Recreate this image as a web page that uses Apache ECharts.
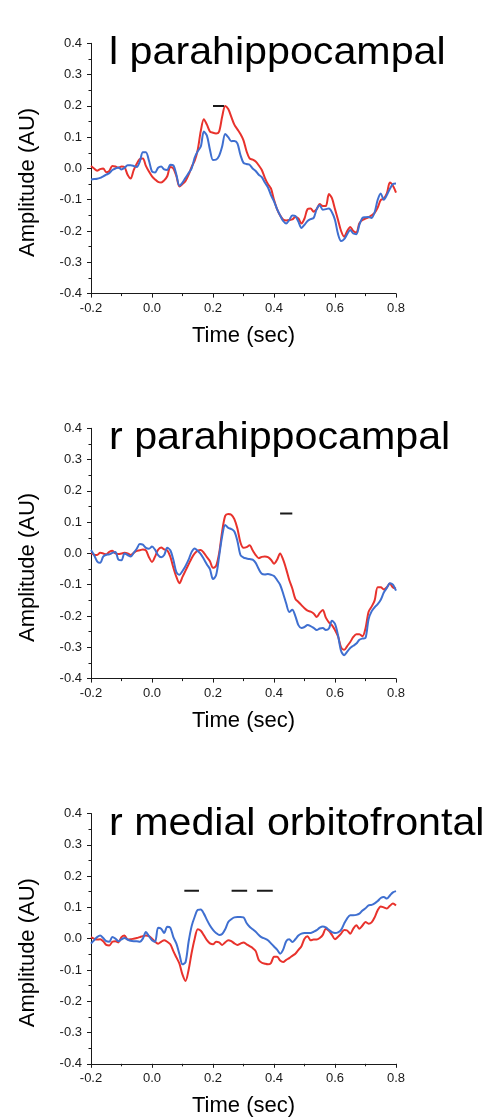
<!DOCTYPE html>
<html><head><meta charset="utf-8">
<script src="https://cdn.jsdelivr.net/npm/echarts@6/dist/echarts.min.js"></script>
<style>html,body{margin:0;padding:0;background:#fff}#c{width:486px;height:1118px}</style>
</head><body><div id="c"></div>
<script>
// Time samples (sec)
const TIME = [-0.20,-0.19,-0.18,-0.17,-0.16,-0.15,-0.14,-0.13,-0.12,-0.11,
-0.10,-0.09,-0.08,-0.07,-0.06,-0.05,-0.04,-0.03,-0.02,-0.01,
0.00,0.01,0.02,0.03,0.04,0.05,0.06,0.07,0.08,0.09,
0.10,0.11,0.12,0.13,0.14,0.15,0.16,0.17,0.18,0.19,
0.20,0.21,0.22,0.23,0.24,0.25,0.26,0.27,0.28,0.29,
0.30,0.31,0.32,0.33,0.34,0.35,0.36,0.37,0.38,0.39,
0.40,0.41,0.42,0.43,0.44,0.45,0.46,0.47,0.48,0.49,
0.50,0.51,0.52,0.53,0.54,0.55,0.56,0.57,0.58,0.59,
0.60,0.61,0.62,0.63,0.64,0.65,0.66,0.67,0.68,0.69,
0.70,0.71,0.72,0.73,0.74,0.75,0.76,0.77,0.78,0.79,0.80];

const PANEL_TITLES = ['l parahippocampal', 'r parahippocampal', 'r medial orbitofrontal'];
const Y_NAME = 'Amplitude (AU)';
const X_NAME = 'Time (sec)';

// l parahippocampal
const lphRed = [0.008,0.000,-0.007,-0.002,0.000,-0.012,-0.008,0.008,0.006,0.002,
0.006,0.004,-0.020,-0.032,-0.005,0.015,0.030,0.032,0.008,-0.010,
-0.025,-0.035,-0.043,-0.045,-0.038,-0.025,0.005,0.000,-0.025,-0.058,
-0.050,-0.040,-0.020,0.005,0.025,0.060,0.120,0.157,0.140,0.118,
0.114,0.112,0.118,0.165,0.200,0.190,0.165,0.140,0.125,0.110,
0.090,0.055,0.032,0.028,0.022,0.010,-0.005,-0.030,-0.050,-0.064,
-0.100,-0.130,-0.150,-0.163,-0.166,-0.165,-0.163,-0.155,-0.160,-0.176,
-0.160,-0.130,-0.128,-0.138,-0.130,-0.114,-0.120,-0.120,-0.082,-0.095,
-0.130,-0.165,-0.200,-0.218,-0.200,-0.187,-0.200,-0.205,-0.175,-0.165,
-0.160,-0.156,-0.150,-0.142,-0.125,-0.101,-0.096,-0.080,-0.045,-0.055,-0.077];
const lphBlue = [-0.035,-0.034,-0.033,-0.030,-0.025,-0.020,-0.015,-0.005,0.000,0.003,
-0.003,0.002,0.010,0.010,0.008,0.005,0.022,0.052,0.052,0.025,
-0.010,-0.013,0.002,0.006,-0.003,-0.005,0.012,0.010,-0.020,-0.055,
-0.045,-0.030,-0.015,0.000,0.035,0.055,0.070,0.118,0.105,0.060,
0.027,0.028,0.040,0.070,0.110,0.100,0.087,0.088,0.080,0.043,
0.018,0.014,0.012,0.000,-0.008,-0.020,-0.028,-0.045,-0.060,-0.085,
-0.105,-0.130,-0.150,-0.168,-0.176,-0.165,-0.150,-0.152,-0.170,-0.190,
-0.180,-0.168,-0.162,-0.158,-0.130,-0.118,-0.132,-0.130,-0.128,-0.140,
-0.165,-0.210,-0.232,-0.226,-0.210,-0.197,-0.208,-0.210,-0.180,-0.158,
-0.156,-0.155,-0.158,-0.140,-0.100,-0.080,-0.100,-0.085,-0.065,-0.050,-0.048];
const lphSig = [[0.200, 0.236, 0.200]];

// r parahippocampal
const rphRed = [0.000,-0.004,-0.005,0.002,0.000,-0.003,0.005,0.009,0.000,-0.002,
0.000,0.002,0.000,-0.005,0.002,0.008,0.010,0.013,0.010,-0.012,
-0.027,-0.010,0.012,0.019,0.013,0.010,-0.010,-0.045,-0.075,-0.095,
-0.075,-0.055,-0.035,-0.015,0.000,0.009,0.011,0.002,-0.012,-0.025,
-0.046,-0.040,0.000,0.070,0.120,0.126,0.124,0.110,0.080,0.035,
0.018,0.020,0.026,0.010,-0.005,-0.015,-0.011,-0.010,-0.012,-0.020,
-0.033,-0.020,0.000,-0.020,-0.050,-0.085,-0.112,-0.145,-0.155,-0.165,
-0.175,-0.183,-0.186,-0.192,-0.203,-0.190,-0.181,-0.205,-0.220,-0.229,
-0.245,-0.265,-0.300,-0.308,-0.296,-0.283,-0.267,-0.258,-0.258,-0.265,
-0.240,-0.187,-0.170,-0.150,-0.108,-0.108,-0.115,-0.108,-0.096,-0.109,-0.112];
const rphBlue = [0.011,-0.005,-0.025,-0.030,-0.010,-0.004,-0.003,0.002,0.005,-0.020,
-0.022,0.000,-0.005,-0.010,0.002,0.015,0.030,0.028,0.018,0.015,
0.022,0.012,-0.005,-0.012,-0.005,0.018,0.010,-0.020,-0.060,-0.068,
-0.056,-0.040,-0.020,0.005,0.016,0.008,-0.002,-0.018,-0.035,-0.050,
-0.082,-0.070,-0.010,0.055,0.091,0.082,0.078,0.070,0.040,-0.005,
-0.013,-0.016,-0.018,-0.020,-0.030,-0.050,-0.065,-0.067,-0.066,-0.068,
-0.072,-0.085,-0.100,-0.128,-0.160,-0.187,-0.180,-0.200,-0.229,-0.238,
-0.235,-0.229,-0.232,-0.238,-0.245,-0.240,-0.238,-0.245,-0.240,-0.215,
-0.225,-0.262,-0.312,-0.325,-0.314,-0.302,-0.295,-0.288,-0.276,-0.272,
-0.270,-0.210,-0.185,-0.172,-0.162,-0.148,-0.125,-0.110,-0.095,-0.100,-0.119];
const rphSig = [[0.420, 0.460, 0.128]];

// r medial orbitofrontal
const rmoRed = [0.005,0.000,-0.003,-0.002,-0.008,-0.020,-0.022,-0.010,-0.008,-0.012,
0.005,0.010,-0.003,-0.002,0.000,0.002,0.005,0.008,0.010,0.008,
0.000,-0.010,-0.016,-0.010,-0.005,-0.010,-0.018,-0.040,-0.060,-0.080,
-0.115,-0.135,-0.100,-0.045,0.000,0.030,0.025,0.011,-0.005,-0.015,
-0.018,-0.010,-0.012,-0.020,-0.012,-0.005,-0.008,-0.015,-0.020,-0.016,
-0.012,-0.018,-0.024,-0.030,-0.040,-0.068,-0.077,-0.080,-0.082,-0.078,
-0.058,-0.058,-0.070,-0.075,-0.068,-0.062,-0.055,-0.048,-0.036,-0.024,
0.000,0.008,-0.005,-0.003,-0.003,0.002,0.012,0.032,0.025,0.012,
-0.002,0.006,0.016,0.028,0.026,0.016,0.032,0.043,0.032,0.042,
0.053,0.048,0.052,0.068,0.091,0.103,0.100,0.096,0.105,0.112,0.106];
const rmoBlue = [-0.016,-0.005,0.005,0.010,0.002,-0.008,-0.010,0.005,0.000,-0.008,
-0.002,0.002,-0.003,-0.007,-0.008,-0.008,-0.010,0.000,0.021,0.008,
-0.005,-0.010,0.035,0.032,0.018,0.038,0.035,0.005,-0.016,-0.050,
-0.082,-0.075,-0.010,0.040,0.070,0.092,0.093,0.080,0.060,0.042,
0.028,0.018,0.012,0.015,0.030,0.053,0.062,0.068,0.069,0.069,
0.068,0.050,0.038,0.030,0.022,0.012,0.004,0.000,-0.005,-0.015,
-0.025,-0.035,-0.048,-0.035,-0.008,-0.002,-0.011,-0.002,0.010,0.016,
0.018,0.018,0.018,0.022,0.027,0.035,0.039,0.036,0.028,0.021,
0.018,0.020,0.028,0.048,0.065,0.075,0.075,0.076,0.080,0.090,
0.097,0.106,0.108,0.113,0.120,0.130,0.133,0.128,0.138,0.148,0.152];
const rmoSig = [[0.106, 0.154, 0.153], [0.261, 0.312, 0.153], [0.344, 0.396, 0.153]];

const PANELS = [
  {title: PANEL_TITLES[0], red: lphRed, blue: lphBlue, sig: lphSig},
  {title: PANEL_TITLES[1], red: rphRed, blue: rphBlue, sig: rphSig},
  {title: PANEL_TITLES[2], red: rmoRed, blue: rmoBlue, sig: rmoSig}
];

const RED = '#e8322c', BLUE = '#3f6fd0', INK = '#1a1a1a';
const FONT = '"Liberation Sans", Arial, sans-serif';
const GRID_TOPS = [43.3, 428.3, 813.5];
const GRID_LEFT = 91, GRID_W = 305, GRID_H = 250.3;

function zip(xs, ys) { return xs.map((x, i) => [x, ys[i]]); }
function fmt(v) { return Math.abs(v) < 1e-9 ? '0.0' : v.toFixed(1); }

const grid = [], xAxis = [], yAxis = [], series = [], graphic = [];
PANELS.forEach((p, i) => {
  const top = GRID_TOPS[i];
  grid.push({left: GRID_LEFT, top: top, width: GRID_W, height: GRID_H, containLabel: false});
  const axisCommon = {
    axisLine: {show: true, onZero: false, lineStyle: {color: INK, width: 1}},
    axisTick: {show: true, inside: false, length: 4, lineStyle: {color: INK, width: 1}},
    minorTick: {show: true, splitNumber: 2, length: 2.5, lineStyle: {color: INK, width: 1}},
    splitLine: {show: false},
    axisLabel: {color: INK, fontSize: 13, fontFamily: FONT, formatter: fmt}
  };
  xAxis.push(Object.assign({}, axisCommon, {
    type: 'value', gridIndex: i, min: -0.2, max: 0.8, interval: 0.2,
    axisLabel: Object.assign({}, axisCommon.axisLabel, {margin: 8, showMaxLabel: true, showMinLabel: true})
  }));
  yAxis.push(Object.assign({}, axisCommon, {
    type: 'value', gridIndex: i, min: -0.4, max: 0.4, interval: 0.1,
    axisLabel: Object.assign({}, axisCommon.axisLabel, {margin: 9})
  }));
  series.push({type: 'line', xAxisIndex: i, yAxisIndex: i, data: zip(TIME, p.red),
    showSymbol: false, smooth: 0.3, lineStyle: {color: RED, width: 2}, itemStyle: {color: RED}, z: 2});
  series.push({type: 'line', xAxisIndex: i, yAxisIndex: i, data: zip(TIME, p.blue),
    showSymbol: false, smooth: 0.3, lineStyle: {color: BLUE, width: 2}, itemStyle: {color: BLUE}, z: 3});
  p.sig.forEach(s => {
    series.push({type: 'line', xAxisIndex: i, yAxisIndex: i, data: [[s[0], s[2]], [s[1], s[2]]],
      showSymbol: false, lineStyle: {color: INK, width: 2}, z: 4});
  });
  graphic.push({type: 'text', x: 109, y: top - 9, scaleX: 1.07, scaleY: 1,
    style: {text: p.title, font: '38.5px ' + FONT, fill: '#000', textAlign: 'left', textVerticalAlign: 'top'}});
  graphic.push({type: 'text', x: 28, y: top + GRID_H / 2 + 14, rotation: Math.PI / 2,
    style: {text: Y_NAME, font: '22px ' + FONT, fill: '#000', textAlign: 'center', textVerticalAlign: 'middle'}});
  graphic.push({type: 'text', x: GRID_LEFT + GRID_W / 2, y: top + GRID_H + 42.4,
    style: {text: X_NAME, font: '22px ' + FONT, fill: '#000', textAlign: 'center', textVerticalAlign: 'middle'}});
});

const chart = echarts.init(document.getElementById('c'), null, {renderer: 'canvas'});
chart.setOption({backgroundColor: '#fff', animation: false, grid, xAxis, yAxis, series, graphic});
</script></body></html>
